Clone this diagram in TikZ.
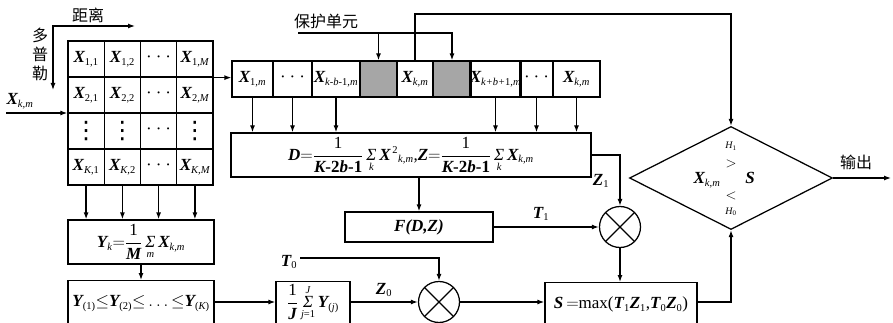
\documentclass[tikz,border=0pt]{standalone}
\usepackage{amsmath}
\usepackage{fontspec}
\setmainfont{Liberation Serif}
\newfontfamily\cjk{Noto Sans CJK SC}
\newfontfamily\djv{DejaVu Sans}
\usetikzlibrary{shapes.geometric,arrows.meta}
\DeclareMathSizes{17}{17}{10.5}{8}
\newcommand\bi[1]{\text{\bfseries\itshape #1}}
\newcommand\ii[1]{\text{\itshape #1}}
\newcommand\rr[1]{\text{#1}}
\newcommand\bb[1]{\text{\bfseries #1}}
\newcommand\hdt{·\hspace{4pt}·\hspace{4pt}·}
\newcommand\sig{\mathop{\ii{Σ}}\limits}
\begin{document}
\begin{tikzpicture}[x=1pt,y=-1pt,line width=1.25pt,
  every node/.style={inner sep=0pt},
  font=\fontsize{17}{20}\selectfont,
  arr/.style={-{Latex[length=7pt,width=5pt]}},
  arrb/.style={{Latex[length=7pt,width=5pt]}-{Latex[length=7pt,width=5pt]}},
  cell/.style={draw, minimum width=36.25, minimum height=36},
  rcell/.style={draw, minimum height=36},
  grayc/.style={rcell, fill=black!35},
  box/.style={draw},
  cutbox/.style={draw, anchor=north, text height=26pt, text depth=40pt},
  mult/.style={draw, circle, minimum size=41, path picture={\draw (path picture bounding box.south west) -- (path picture bounding box.north east) (path picture bounding box.north west) -- (path picture bounding box.south east);}},
  vd/.style={cell, font=\djv\fontsize{24}{26}\selectfont},
  zh/.style={font=\cjk\fontsize{16}{19}\selectfont}]
\clip (0,0) rectangle (893,323);
% grid
\node[cell] (g11) at (86.1,59) {$\bi{X}_{\rr{1,1}}$};
\node[cell] (g12) at (122.4,59) {$\bi{X}_{\rr{1,2}}$};
\node[cell] (g13) at (158.6,59) {\hdt};
\node[cell] (g14) at (194.9,59) {$\bi{X}_{\rr{1,}\ii{M}}$};
\node[cell] (g21) at (86.1,95) {$\bi{X}_{\rr{2,1}}$};
\node[cell] (g22) at (122.4,95) {$\bi{X}_{\rr{2,2}}$};
\node[cell] (g23) at (158.6,95) {\hdt};
\node[cell] (g24) at (194.9,95) {$\bi{X}_{\rr{2,}\ii{M}}$};
\node[vd] (g31) at (86.1,131) {⋮};
\node[vd] (g32) at (122.4,131) {⋮};
\node[cell] (g33) at (158.6,131) {\hdt};
\node[vd] (g34) at (194.9,131) {⋮};
\node[cell] (g41) at (86.1,167) {$\bi{X}_{\ii{K}\rr{,1}}$};
\node[cell] (g42) at (122.4,167) {$\bi{X}_{\ii{K}\rr{,2}}$};
\node[cell] (g43) at (158.6,167) {\hdt};
\node[cell] (g44) at (194.9,167) {$\bi{X}_{\ii{K,M}}$};
% labels left
\coordinate (dA) at (53,90); \coordinate (dC) at (53,26); \coordinate (dB) at (135,26);
\draw[arrb] (dA) -- (dC) -- (dB);
\node[zh] (juli) at (88,15) {距离};
\node[zh, align=center] (dpl) at (40,54) {多\\普\\勒};
\node (xkm) at (20,101) {$\bi{X}_{\ii{k,m}}$};
\coordinate (xin) at (6,113);
\draw[arr] (xin) -- (xin -| g11.west);
% row
\node[rcell, minimum width=41] (r1) at (252.5,79) {$\bi{X}_{\rr{1,}\ii{m}}$};
\node[rcell, minimum width=39] (r2) at (292.5,79) {\hdt};
\node[rcell, minimum width=48] (r3) at (336,79) {$\bi{X}_{\ii{k-b-}\rr{1,}\ii{m}}$};
\node[grayc, minimum width=37] (gr1) at (378.5,79) {};
\node[rcell, minimum width=36] (rk) at (415,79) {$\bi{X}_{\ii{k,m}}$};
\node[grayc, minimum width=38] (gr2) at (452,79) {};
\node[rcell, minimum width=49] (r7) at (495.5,79) {$\bi{X}_{\ii{k+b+}\rr{1,}\ii{m}}$};
\node[rcell, minimum width=33] (r8) at (536.5,79) {\hdt};
\node[rcell, minimum width=47] (r9) at (576.5,79) {$\bi{X}_{\ii{k,m}}$};
\draw[arr] (g14.south east) -- (g14.south east -| r1.west);
% protect
\node[zh] (bh) at (326,21) {保护单元};
\coordinate (pA) at (298,33);
\draw[arr] (pA) -| (gr2.north);
\draw[arr] (pA -| gr1.north) -- (gr1.north);
% boxes
\node[box, minimum width=360, minimum height=44] (D) at (411,155)
 {$\bi{D}{=}\dfrac{\rr{1}}{\bi{K}\bb{-2}\bi{b}\bb{-1}}\sig_{\ii{k}}\bi{X}^{\,\rr{2}}{}_{\ii{k,m}}\rr{,}\bi{Z}{=}\dfrac{\rr{1}}{\bi{K}\bb{-2}\bi{b}\bb{-1}}\sig_{\ii{k}}\bi{X}_{\ii{k,m}}$};
\node[box, minimum width=148, minimum height=30] (F) at (419,227) {\bfseries\itshape F(D,Z)};
\node[box, minimum width=146, minimum height=44] (Y) at (141,242)
 {$\bi{Y}_{\ii{k}}{=}\dfrac{\rr{1}}{\bi{M}}\sig_{\ii{m}}\bi{X}_{\ii{k,m}}$};
\node[cutbox, minimum width=146] (sort) at (141,280)
 {$\bi{Y}_{\rr{(1)}}{\le}\bi{Y}_{\rr{(2)}}{\le}\ldots{\le}\bi{Y}_{\rr{(}\ii{K}\rr{)}}$};
\node[cutbox, minimum width=74] (J) at (313,281)
 {$\dfrac{\rr{1}}{\bi{J}}\sig_{\ii{j}\rr{=1}}^{\ii{J}}\bi{Y}_{\rr{(}\ii{j}\rr{)}}$};
\node[cutbox, minimum width=152] (S) at (621,282)
 {$\bi{S}\,{=}\rr{max(}\bi{T}_{\rr{1}}\bi{Z}_{\rr{1}}\rr{,}\bi{T}_{\rr{0}}\bi{Z}_{\rr{0}}\rr{)}$};
\node[mult] (c1) at (620,227) {};
\node[mult] (c2) at (439,302) {};
\node[draw, diamond, aspect=2, minimum width=203, minimum height=103] (dia) at (731,178) {};
% diamond text
\node (dx) at (707,180) {$\bi{X}_{\ii{k,m}}$};
\node (ds) at (750,178) {$\bi{S}$};
\node[font=\fontsize{10}{12}\selectfont] (h1) at (731,146) {\itshape H\textsubscript{\upshape 1}};
\node[font=\fontsize{14}{16}\selectfont] (gt) at (731,164) {$>$};
\node[font=\fontsize{14}{16}\selectfont] (lt) at (731,196) {$<$};
\node[font=\fontsize{10}{12}\selectfont] (h0) at (731,212) {\itshape H\textsubscript{\upshape 0}};
% labels
\node (T1) at (541,214) {$\bi{T}_{\rr{1}}$};
\node (Z1) at (601,181) {$\bi{Z}_{\rr{1}}$};
\node (T0) at (289,262) {$\bi{T}_{\rr{0}}$};
\node (Z0) at (384,290) {$\bi{Z}_{\rr{0}}$};
\node[zh] (sc) at (856,162) {输出};
% connectors
\foreach \c in {g41,g42,g43,g44} \draw[arr] (\c.south) -- (\c.south |- Y.north);
\draw[arr] (Y.south) -- (sort.north);
\coordinate (midY) at (0,302);
\draw[arr] (sort.east |- midY) -- (J.west |- midY);
\draw[arr] (J.east |- midY) -- (c2.west);
\coordinate (t0) at (300,258);
\draw[arr] (t0) -| (c2.north);
\draw[arr] (c2.east) -- (c2.east -| S.west);
\foreach \c in {r1,r2,r3,r7,r8,r9} \draw[arr] (\c.south) -- (\c.south |- D.north);
\coordinate (topY) at (0,14);
\draw[arr] (rk.north) |- (topY -| dia.north) -- (dia.north);
\draw[arr] (D.south -| F.north) -- (F.north);
\draw[arr] (D.east) -| (c1.north);
\draw[arr] (F.east) -- (c1.west);
\draw[arr] (c1.south) -- (c1.south |- S.north);
\draw[arr] (S.east |- midY) -| (dia.south);
\coordinate (out) at (891,178);
\draw[arr] (dia.east) -- (out);
\end{tikzpicture}
\end{document}
